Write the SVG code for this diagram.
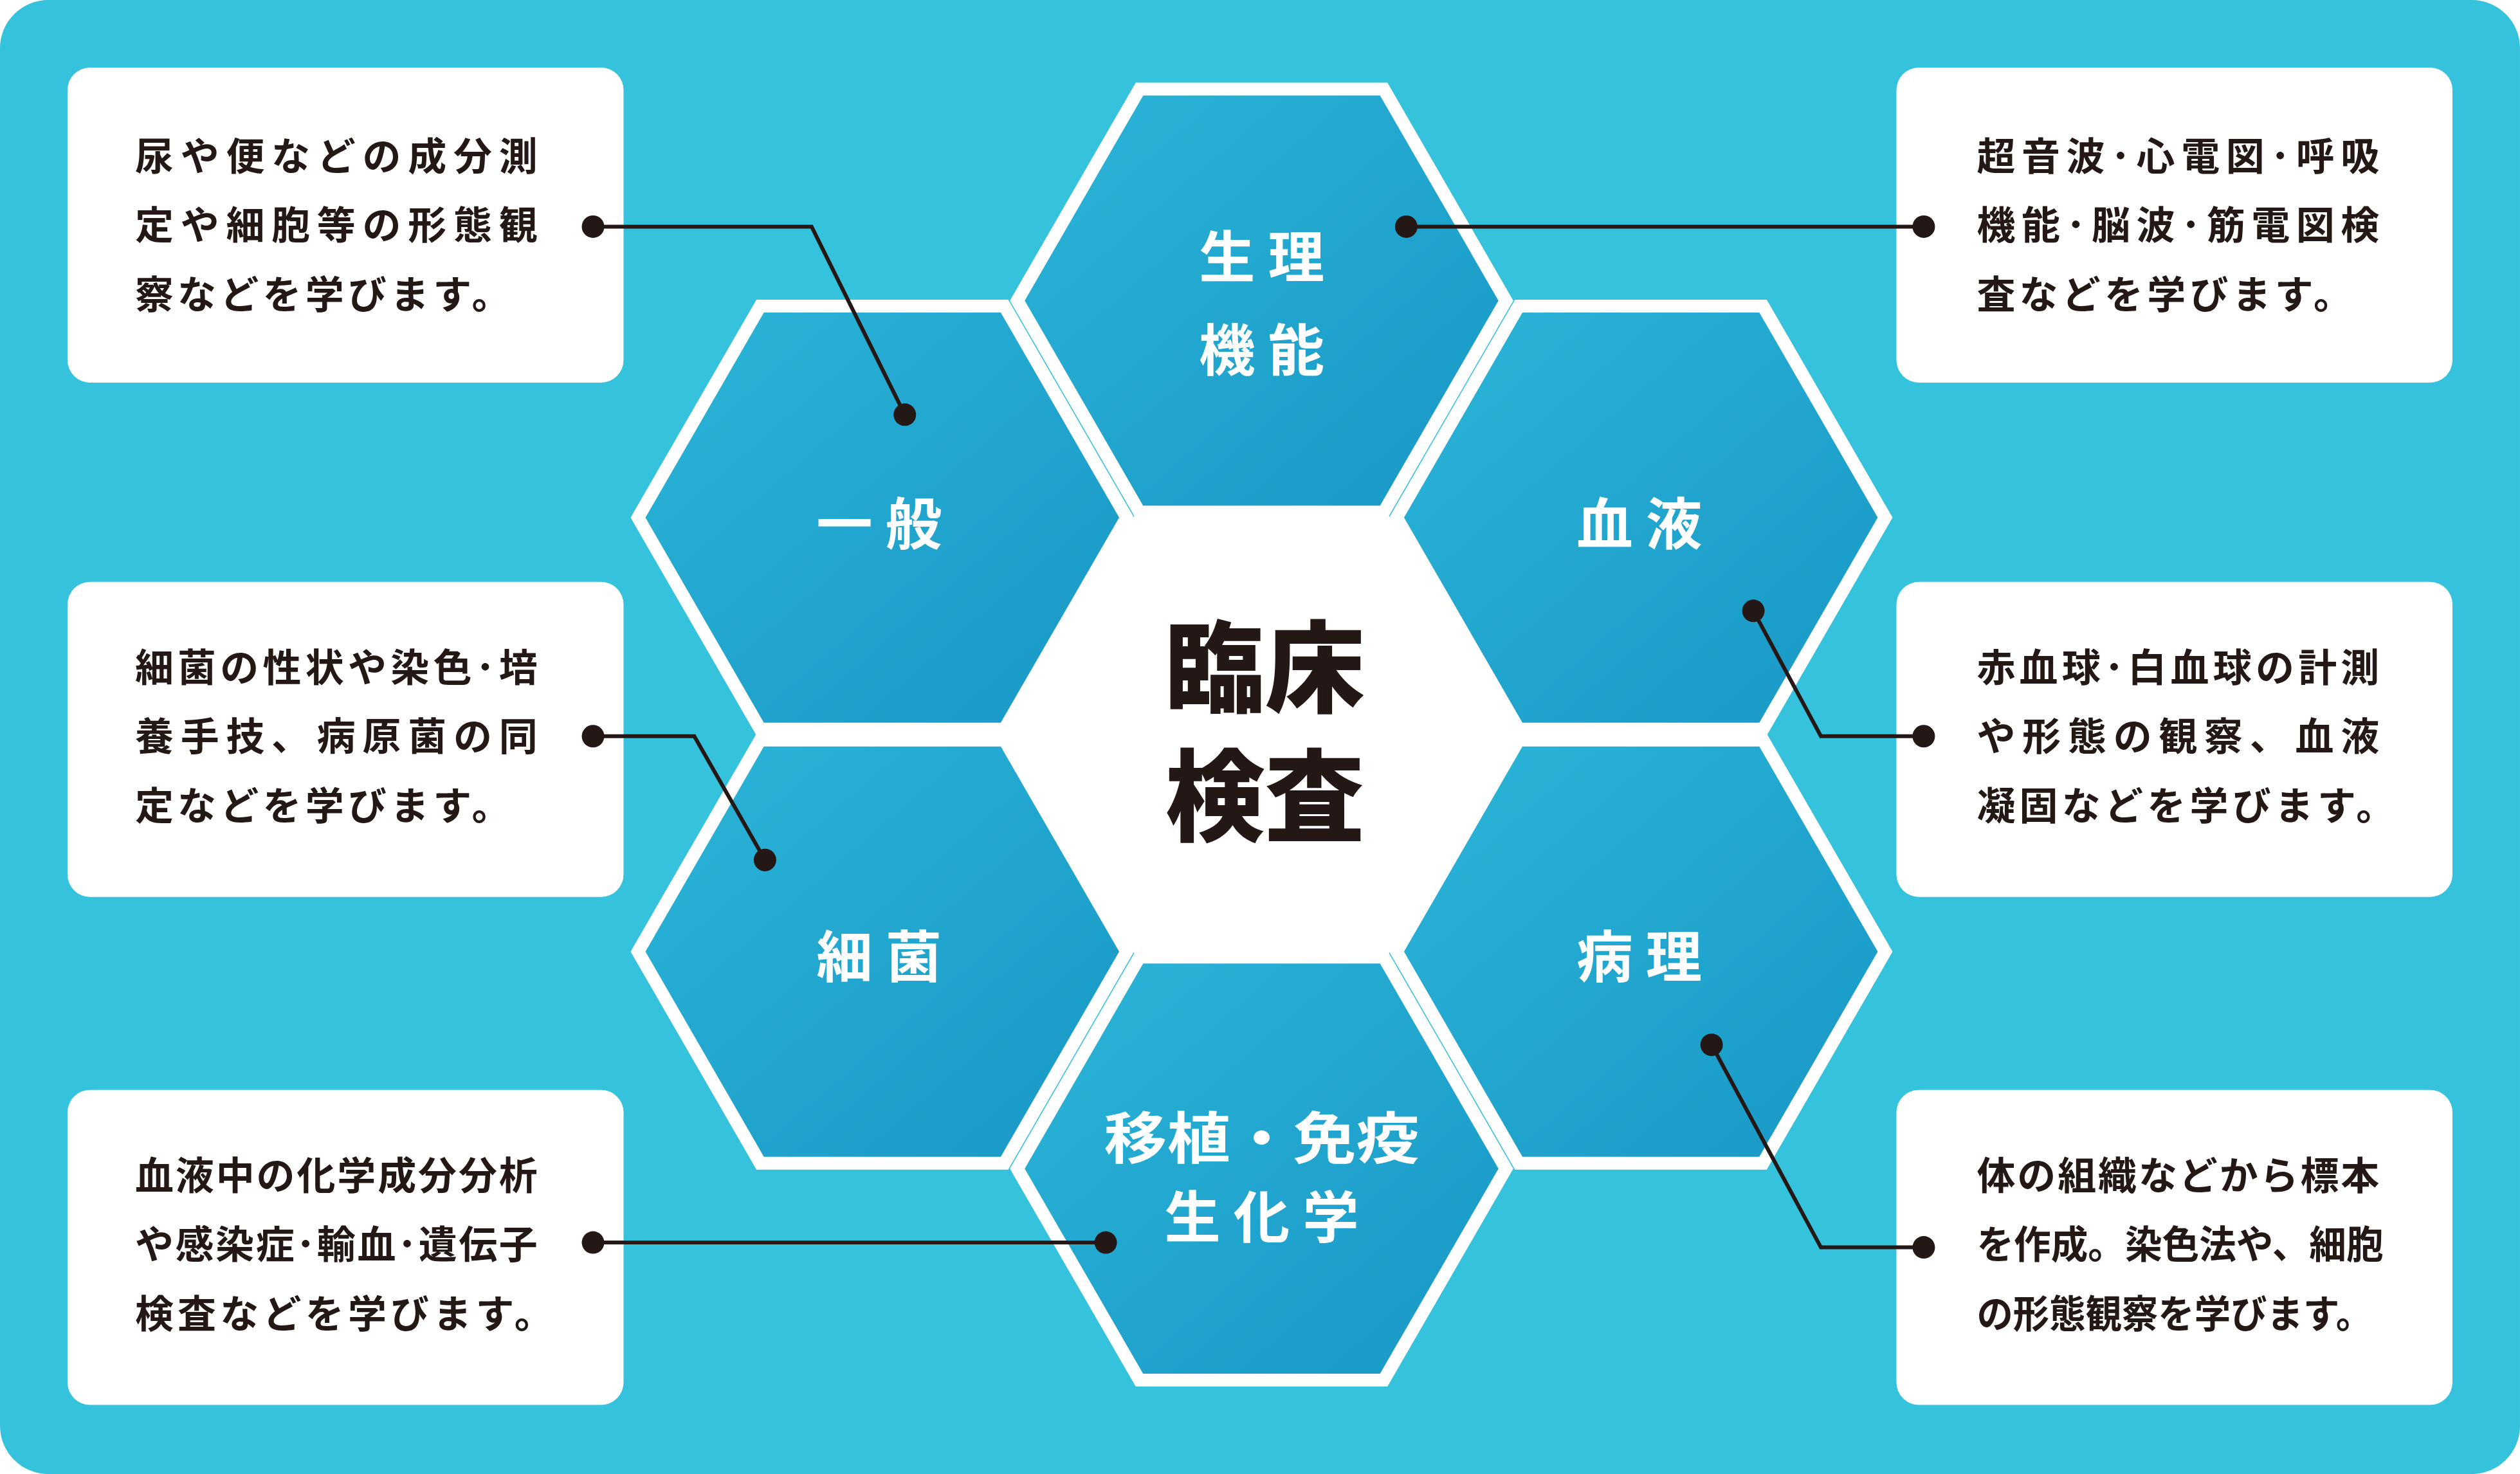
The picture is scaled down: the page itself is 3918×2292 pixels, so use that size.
<svg xmlns="http://www.w3.org/2000/svg" width="3918" height="2292" viewBox="0 0 3918 2292">
<defs>
<linearGradient id="hg" x1="0" y1="0" x2="1" y2="1"><stop offset="0" stop-color="#2BB5D8"/><stop offset="1" stop-color="#1897C6"/></linearGradient>
<style>
.hex{fill:url(#hg);stroke:#fff;stroke-width:8;stroke-linejoin:miter}
.box{fill:#fff}
.bt{font-family:"Noto Sans CJK JP",sans-serif;font-weight:700;font-size:24px;fill:#231815;letter-spacing:2.5px}
.ht{font-family:"Noto Sans CJK JP",sans-serif;font-weight:700;font-size:35px;fill:#fff;letter-spacing:8px;text-anchor:middle}
.ct{font-family:"Noto Sans CJK JP",sans-serif;font-weight:900;font-size:62px;fill:#231815;text-anchor:middle}
.ln{fill:none;stroke:#231815;stroke-width:2.4}
.dot{fill:#231815}
</style>
<polygon id="hx" points="152,0 76,131.6 -76,131.6 -152,0 -76,-131.6 76,-131.6"/>
</defs>
<g transform="scale(2.4987,2.4995)">
<rect x="0" y="0" width="1568" height="917" rx="30" fill="#35C2DD"/>
<g id="hexes">
<g id="seiri"><use href="#hx" x="785" y="187" class="hex"/><text class="ht" x="789" y="173">生理</text><text class="ht" x="789" y="231">機能</text></g>
<g id="ippan"><use href="#hx" x="549" y="322" class="hex"/><text class="ht" x="551" y="339">一般</text></g>
<g id="ketsueki"><use href="#hx" x="1021" y="322" class="hex"/><text class="ht" x="1024" y="339">血液</text></g>
<g id="saikin"><use href="#hx" x="549" y="592" class="hex"/><text class="ht" x="551" y="608">細菌</text></g>
<g id="byouri"><use href="#hx" x="1021" y="592" class="hex"/><text class="ht" x="1024" y="608">病理</text></g>
<g id="ishoku"><use href="#hx" x="785" y="727" class="hex"/><text class="ht" x="785" y="721" textLength="196" lengthAdjust="spacingAndGlyphs" style="letter-spacing:0">移植・免疫</text><text class="ht" x="789" y="770">生化学</text></g>
<g id="center"><use href="#hx" x="785" y="457" fill="#fff" stroke="#fff" stroke-width="10"/><text class="ct" x="787" y="438">臨床</text><text class="ct" x="787" y="518">検査</text></g>
</g>
<g id="boxes">
<g id="b1"><rect class="box" x="42" y="42" width="346" height="196" rx="14"/><text class="bt" x="84" y="106" textLength="253">尿や便などの成分測</text><text class="bt" x="84" y="149" textLength="253">定や細胞等の形態観</text><text class="bt" x="84" y="192">察などを学びます。</text></g>
<g id="b2"><rect class="box" x="42" y="362" width="346" height="196" rx="14"/><text class="bt" x="84" y="424" textLength="253">細菌の性状や染色･培</text><text class="bt" x="84" y="467" textLength="253">養手技、病原菌の同</text><text class="bt" x="84" y="510">定などを学びます。</text></g>
<g id="b3"><rect class="box" x="42" y="678" width="346" height="196" rx="14"/><text class="bt" x="84" y="740" textLength="253">血液中の化学成分分析</text><text class="bt" x="84" y="783" textLength="253">や感染症･輸血･遺伝子</text><text class="bt" x="84" y="826">検査などを学びます。</text></g>
<g id="b4"><rect class="box" x="1180" y="42" width="346" height="196" rx="14"/><text class="bt" x="1230" y="106" textLength="253">超音波･心電図･呼吸</text><text class="bt" x="1230" y="149" textLength="253">機能･脳波･筋電図検</text><text class="bt" x="1230" y="192">査などを学びます。</text></g>
<g id="b5"><rect class="box" x="1180" y="362" width="346" height="196" rx="14"/><text class="bt" x="1230" y="424" textLength="253">赤血球･白血球の計測</text><text class="bt" x="1230" y="467" textLength="253">や形態の観察、血液</text><text class="bt" x="1230" y="510">凝固などを学びます。</text></g>
<g id="b6"><rect class="box" x="1180" y="678" width="346" height="196" rx="14"/><text class="bt" x="1230" y="740" textLength="253">体の組織などから標本</text><text class="bt" x="1230" y="783" textLength="253" lengthAdjust="spacingAndGlyphs" style="letter-spacing:0">を作成。染色法や、細胞</text><text class="bt" x="1230" y="826" textLength="246" lengthAdjust="spacingAndGlyphs" style="letter-spacing:0">の形態観察を学びます。</text></g>
</g>
<g id="connectors">
<polyline class="ln" points="369,141 505,141 563,258"/><circle class="dot" cx="369" cy="141" r="7"/><circle class="dot" cx="563" cy="258" r="7"/>
<polyline class="ln" points="875,141 1197,141"/><circle class="dot" cx="875" cy="141" r="7"/><circle class="dot" cx="1197" cy="141" r="7"/>
<polyline class="ln" points="369,458 432,458 476,535"/><circle class="dot" cx="369" cy="458" r="7"/><circle class="dot" cx="476" cy="535" r="7"/>
<polyline class="ln" points="1091,380 1133,458 1197,458"/><circle class="dot" cx="1091" cy="380" r="7"/><circle class="dot" cx="1197" cy="458" r="7"/>
<polyline class="ln" points="369,773 688,773"/><circle class="dot" cx="369" cy="773" r="7"/><circle class="dot" cx="688" cy="773" r="7"/>
<polyline class="ln" points="1065,650 1133,776 1197,776"/><circle class="dot" cx="1065" cy="650" r="7"/><circle class="dot" cx="1197" cy="776" r="7"/>
</g>
</g>
</svg>
